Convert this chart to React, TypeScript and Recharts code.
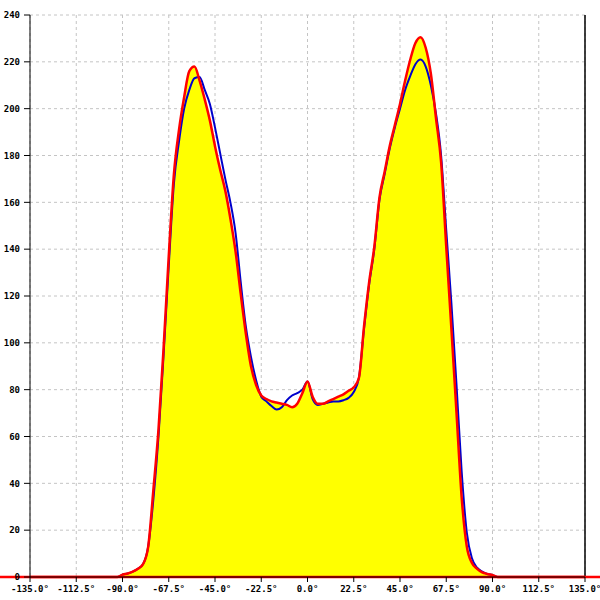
import {
  ComposedChart,
  Area,
  Line,
  XAxis,
  YAxis,
  CartesianGrid,
  ReferenceLine,
} from 'recharts';

// Angle positions (degrees) of the samples
const angles = [
  -135, -92.5,
  -90, -87.5, -85, -82.5, -80, -77.5, -75, -72.5, -70, -67.5,
  -65, -62.5, -60, -57.5, -55, -52.5, -50, -47.5, -45, -42.5,
  -40, -37.5, -35, -32.5, -30, -27.5, -25, -22.5, -20, -17.5,
  -15, -12.5, -10, -7.5, -5, -2.5,
  0,
  2.5, 5, 7.5, 10, 12.5, 15, 17.5, 20, 22.5, 25,
  27.5, 30, 32.5, 35, 37.5, 40, 42.5, 45, 47.5, 50,
  52.5, 55, 57.5, 60, 62.5, 65, 67.5, 70, 72.5, 75,
  77.5, 80, 82.5, 85, 87.5, 90,
  92.5, 135,
];

// red series (drawn with the yellow fill)
const redValues = [
  0, 0,
  1, 1.5, 2.3, 3.5, 5.5, 13, 37, 63, 98, 137,
  172, 191, 205, 216, 218, 212, 204, 195, 184, 174,
  165, 153, 139, 121, 104, 90, 82, 77.5, 76, 75,
  74.5, 74, 73.5, 72.5, 74, 78.5,
  83.5,
  77, 74, 74, 75, 76, 77, 78, 79.5, 81, 85,
  107, 126, 141, 162, 173, 184, 193, 202, 212, 221,
  228, 230.5, 226, 215, 196, 177, 141, 106, 70, 34,
  13, 6, 3.5, 2, 1.3, 0.8,
  0, 0,
];

// blue series
const blueValues = [
  0, 0,
  1, 1.5, 2.3, 3.5, 5.5, 13, 33, 60, 95, 133,
  168, 186, 200, 208, 213, 213.5, 208, 202, 192, 181,
  170, 160, 147, 126, 107, 94, 84, 77, 75, 73,
  71.5, 72.5, 75.5, 77.5, 78.5, 80,
  83.5,
  76, 73.5, 74, 74.5, 75, 75, 75.5, 76.5, 79, 85,
  106, 125, 140, 161, 172, 183, 192, 200, 208, 214,
  219, 221, 218, 210, 198, 180, 148, 117, 82, 45,
  19, 8, 4, 2.3, 1.3, 0.8,
  0, 0,
];

const xTicks = [-135, -112.5, -90, -67.5, -45, -22.5, 0, 22.5, 45, 67.5, 90, 112.5, 135];
const yTicks = [0, 20, 40, 60, 80, 100, 120, 140, 160, 180, 200, 220, 240];

const data = angles.map((a, i) => ({ angle: a, red: redValues[i], blue: blueValues[i] }));

const tickStyle = {
  fontFamily: '"DejaVu Sans Mono", monospace',
  fontSize: 9,
  fontWeight: 'bold',
  fill: '#000',
};

export default function App() {
  return (
    <div style={{ position: 'absolute', left: 0, top: 0, width: 600, height: 600, background: '#fff' }}>
      <ComposedChart
        width={600}
        height={600}
        data={data}
        margin={{ top: 15, right: 15, bottom: 0, left: 0 }}
      >
        <CartesianGrid stroke="#c4c4c4" strokeDasharray="3 3" />
        <XAxis
          dataKey="angle"
          type="number"
          domain={[-135, 135]}
          ticks={xTicks}
          interval={0}
          height={23}
          tickSize={5}
          tickMargin={4}
          stroke="#000"
          tick={tickStyle}
          tickFormatter={(v: number) => `${v.toFixed(1)}°`}
        />
        <YAxis
          domain={[0, 240]}
          ticks={yTicks}
          interval={0}
          width={30}
          tickSize={6}
          tickMargin={4}
          stroke="#000"
          tick={tickStyle}
        />
        <ReferenceLine x={135} stroke="#000" strokeWidth={1.5} />
        <Area
          type="monotone"
          dataKey="red"
          fill="#ffff00"
          fillOpacity={1}
          stroke="none"
          isAnimationActive={false}
        />
        <Line
          type="monotone"
          dataKey="blue"
          stroke="#0000cc"
          strokeWidth={2}
          dot={false}
          isAnimationActive={false}
        />
        <Line
          type="monotone"
          dataKey="red"
          stroke="#ff0000"
          strokeWidth={2.5}
          dot={false}
          isAnimationActive={false}
        />
        <ReferenceLine
          segment={[{ x: -150, y: 0 }, { x: 143, y: 0 }]}
          ifOverflow="visible"
          stroke="#ff0000"
          strokeWidth={2.5}
        />
      </ComposedChart>
    </div>
  );
}
